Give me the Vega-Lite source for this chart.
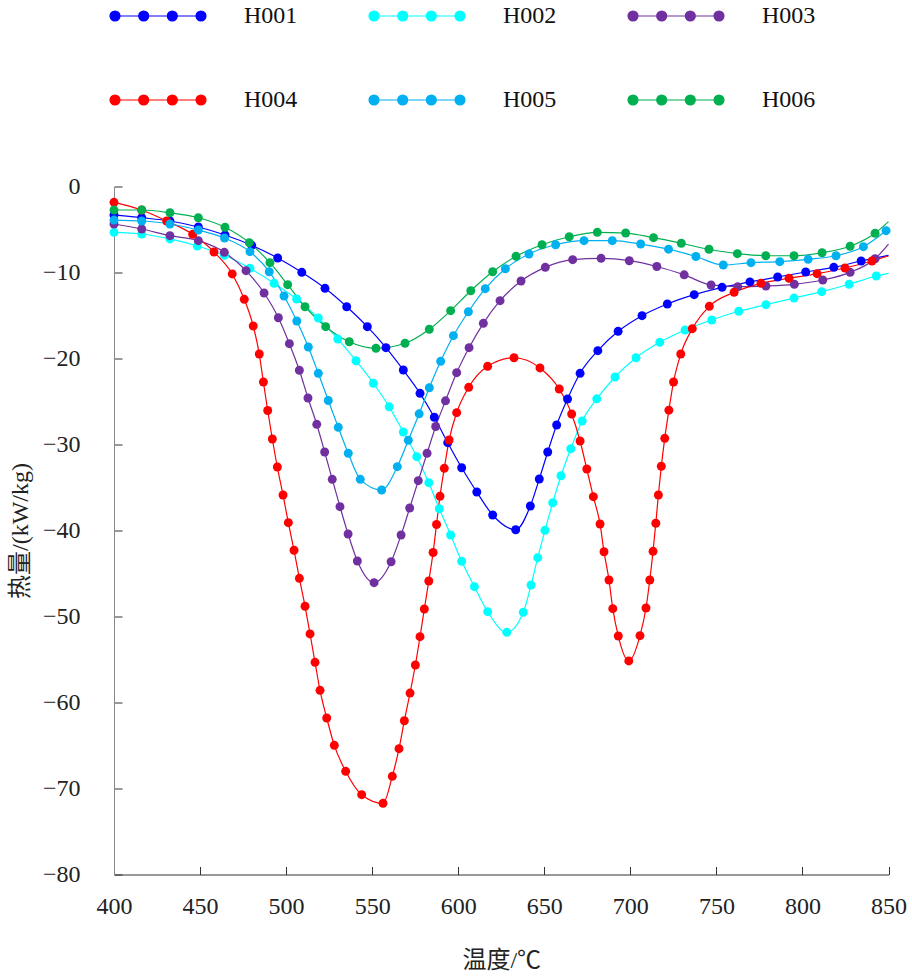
{
  "$schema": "https://vega.github.io/schema/vega-lite/v6.json",
  "width": 774.5,
  "height": 688,
  "autosize": {"type": "none"},
  "padding": {"left": 114, "top": 186.5, "right": 23.5, "bottom": 103.5},
  "background": "white",
  "data": {
    "values": [
      {"s": "H001", "T": 400, "Q": -3.31},
      {"s": "H001", "T": 416.1, "Q": -3.63},
      {"s": "H001", "T": 432.5, "Q": -4.01},
      {"s": "H001", "T": 449.0, "Q": -4.71},
      {"s": "H001", "T": 464.5, "Q": -5.64},
      {"s": "H001", "T": 480.0, "Q": -6.84},
      {"s": "H001", "T": 495.1, "Q": -8.31},
      {"s": "H001", "T": 509.1, "Q": -9.98},
      {"s": "H001", "T": 522.6, "Q": -11.84},
      {"s": "H001", "T": 535.2, "Q": -13.98},
      {"s": "H001", "T": 547.2, "Q": -16.30},
      {"s": "H001", "T": 558.0, "Q": -18.74},
      {"s": "H001", "T": 568.1, "Q": -21.34},
      {"s": "H001", "T": 577.8, "Q": -24.05},
      {"s": "H001", "T": 586.1, "Q": -26.83},
      {"s": "H001", "T": 593.9, "Q": -29.79},
      {"s": "H001", "T": 602.0, "Q": -32.70},
      {"s": "H001", "T": 610.8, "Q": -35.52},
      {"s": "H001", "T": 620.0, "Q": -38.20},
      {"s": "H001", "T": 633.4, "Q": -39.91},
      {"s": "H001", "T": 641.9, "Q": -37.15},
      {"s": "H001", "T": 647.1, "Q": -34.01},
      {"s": "H001", "T": 652.0, "Q": -30.87},
      {"s": "H001", "T": 657.2, "Q": -27.73},
      {"s": "H001", "T": 663.5, "Q": -24.71},
      {"s": "H001", "T": 670.8, "Q": -21.72},
      {"s": "H001", "T": 681.1, "Q": -19.09},
      {"s": "H001", "T": 692.9, "Q": -16.84},
      {"s": "H001", "T": 706.8, "Q": -15.02},
      {"s": "H001", "T": 721.5, "Q": -13.66},
      {"s": "H001", "T": 737.1, "Q": -12.58},
      {"s": "H001", "T": 753.3, "Q": -11.72},
      {"s": "H001", "T": 769.5, "Q": -11.10},
      {"s": "H001", "T": 785.6, "Q": -10.52},
      {"s": "H001", "T": 801.9, "Q": -9.94},
      {"s": "H001", "T": 818.2, "Q": -9.40},
      {"s": "H001", "T": 834.1, "Q": -8.66},
      {"s": "H001", "T": 850, "Q": -8.0},

      {"s": "H002", "T": 400, "Q": -5.33},
      {"s": "H002", "T": 416.1, "Q": -5.52},
      {"s": "H002", "T": 432.5, "Q": -6.10},
      {"s": "H002", "T": 448.4, "Q": -6.92},
      {"s": "H002", "T": 464.1, "Q": -8.00},
      {"s": "H002", "T": 479.0, "Q": -9.51},
      {"s": "H002", "T": 493.0, "Q": -11.26},
      {"s": "H002", "T": 506.1, "Q": -13.08},
      {"s": "H002", "T": 518.7, "Q": -15.29},
      {"s": "H002", "T": 530.0, "Q": -17.73},
      {"s": "H002", "T": 540.6, "Q": -20.26},
      {"s": "H002", "T": 550.7, "Q": -22.88},
      {"s": "H002", "T": 559.9, "Q": -25.62},
      {"s": "H002", "T": 568.1, "Q": -28.55},
      {"s": "H002", "T": 575.9, "Q": -31.42},
      {"s": "H002", "T": 582.9, "Q": -34.44},
      {"s": "H002", "T": 589.0, "Q": -37.47},
      {"s": "H002", "T": 595.6, "Q": -40.52},
      {"s": "H002", "T": 602.0, "Q": -43.58},
      {"s": "H002", "T": 609.4, "Q": -46.53},
      {"s": "H002", "T": 617.1, "Q": -49.44},
      {"s": "H002", "T": 628.2, "Q": -51.84},
      {"s": "H002", "T": 637.8, "Q": -49.51},
      {"s": "H002", "T": 642.3, "Q": -46.34},
      {"s": "H002", "T": 646.2, "Q": -43.16},
      {"s": "H002", "T": 650.4, "Q": -39.98},
      {"s": "H002", "T": 654.9, "Q": -36.77},
      {"s": "H002", "T": 659.7, "Q": -33.63},
      {"s": "H002", "T": 665.4, "Q": -30.49},
      {"s": "H002", "T": 672.0, "Q": -27.27},
      {"s": "H002", "T": 680.5, "Q": -24.69},
      {"s": "H002", "T": 691.1, "Q": -22.15},
      {"s": "H002", "T": 703.3, "Q": -19.91},
      {"s": "H002", "T": 717.1, "Q": -18.12},
      {"s": "H002", "T": 731.8, "Q": -16.69},
      {"s": "H002", "T": 747.3, "Q": -15.52},
      {"s": "H002", "T": 763.0, "Q": -14.51},
      {"s": "H002", "T": 778.8, "Q": -13.74},
      {"s": "H002", "T": 795.1, "Q": -12.97},
      {"s": "H002", "T": 811.2, "Q": -12.23},
      {"s": "H002", "T": 827.1, "Q": -11.37},
      {"s": "H002", "T": 842.9, "Q": -10.41},
      {"s": "H002", "T": 850, "Q": -10.1},

      {"s": "H003", "T": 400, "Q": -4.36},
      {"s": "H003", "T": 416.1, "Q": -4.94},
      {"s": "H003", "T": 432.5, "Q": -5.72},
      {"s": "H003", "T": 449.0, "Q": -6.30},
      {"s": "H003", "T": 464.1, "Q": -7.65},
      {"s": "H003", "T": 476.7, "Q": -9.79},
      {"s": "H003", "T": 487.2, "Q": -12.38},
      {"s": "H003", "T": 495.5, "Q": -15.26},
      {"s": "H003", "T": 501.9, "Q": -18.28},
      {"s": "H003", "T": 507.7, "Q": -21.37},
      {"s": "H003", "T": 512.7, "Q": -24.59},
      {"s": "H003", "T": 517.8, "Q": -27.65},
      {"s": "H003", "T": 522.4, "Q": -30.87},
      {"s": "H003", "T": 526.8, "Q": -34.05},
      {"s": "H003", "T": 531.3, "Q": -37.23},
      {"s": "H003", "T": 536.0, "Q": -40.41},
      {"s": "H003", "T": 541.4, "Q": -43.55},
      {"s": "H003", "T": 551.1, "Q": -46.07},
      {"s": "H003", "T": 561.0, "Q": -43.63},
      {"s": "H003", "T": 566.8, "Q": -40.52},
      {"s": "H003", "T": 571.8, "Q": -37.38},
      {"s": "H003", "T": 576.8, "Q": -34.21},
      {"s": "H003", "T": 581.9, "Q": -31.02},
      {"s": "H003", "T": 586.9, "Q": -27.91},
      {"s": "H003", "T": 592.6, "Q": -24.92},
      {"s": "H003", "T": 599.1, "Q": -21.65},
      {"s": "H003", "T": 606.3, "Q": -18.74},
      {"s": "H003", "T": 614.6, "Q": -15.91},
      {"s": "H003", "T": 624.3, "Q": -13.28},
      {"s": "H003", "T": 636.5, "Q": -10.99},
      {"s": "H003", "T": 650.6, "Q": -9.40},
      {"s": "H003", "T": 666.5, "Q": -8.51},
      {"s": "H003", "T": 683.0, "Q": -8.35},
      {"s": "H003", "T": 699.4, "Q": -8.63},
      {"s": "H003", "T": 715.4, "Q": -9.30},
      {"s": "H003", "T": 731.3, "Q": -10.27},
      {"s": "H003", "T": 746.9, "Q": -11.45},
      {"s": "H003", "T": 762.4, "Q": -11.65},
      {"s": "H003", "T": 778.8, "Q": -11.57},
      {"s": "H003", "T": 795.3, "Q": -11.37},
      {"s": "H003", "T": 811.8, "Q": -10.87},
      {"s": "H003", "T": 827.7, "Q": -9.98},
      {"s": "H003", "T": 842.2, "Q": -8.40},
      {"s": "H003", "T": 850, "Q": -6.69},

      {"s": "H004", "T": 400, "Q": -1.84},
      {"s": "H004", "T": 416.1, "Q": -2.73},
      {"s": "H004", "T": 430.6, "Q": -4.01},
      {"s": "H004", "T": 445.7, "Q": -5.56},
      {"s": "H004", "T": 458.1, "Q": -7.62},
      {"s": "H004", "T": 468.7, "Q": -10.17},
      {"s": "H004", "T": 475.7, "Q": -13.12},
      {"s": "H004", "T": 480.9, "Q": -16.22},
      {"s": "H004", "T": 484.4, "Q": -19.48},
      {"s": "H004", "T": 486.8, "Q": -22.73},
      {"s": "H004", "T": 489.3, "Q": -26.05},
      {"s": "H004", "T": 492.0, "Q": -29.36},
      {"s": "H004", "T": 494.9, "Q": -32.62},
      {"s": "H004", "T": 498.2, "Q": -35.87},
      {"s": "H004", "T": 501.3, "Q": -39.09},
      {"s": "H004", "T": 504.6, "Q": -42.30},
      {"s": "H004", "T": 507.7, "Q": -45.56},
      {"s": "H004", "T": 511.0, "Q": -48.81},
      {"s": "H004", "T": 513.9, "Q": -52.03},
      {"s": "H004", "T": 516.8, "Q": -55.33},
      {"s": "H004", "T": 519.7, "Q": -58.58},
      {"s": "H004", "T": 523.6, "Q": -61.80},
      {"s": "H004", "T": 528.0, "Q": -64.98},
      {"s": "H004", "T": 534.6, "Q": -68.00},
      {"s": "H004", "T": 543.9, "Q": -70.72},
      {"s": "H004", "T": 556.3, "Q": -71.72},
      {"s": "H004", "T": 561.7, "Q": -68.58},
      {"s": "H004", "T": 565.6, "Q": -65.37},
      {"s": "H004", "T": 568.7, "Q": -62.12},
      {"s": "H004", "T": 572.0, "Q": -58.90},
      {"s": "H004", "T": 575.1, "Q": -55.64},
      {"s": "H004", "T": 577.8, "Q": -52.35},
      {"s": "H004", "T": 580.3, "Q": -49.13},
      {"s": "H004", "T": 582.9, "Q": -45.87},
      {"s": "H004", "T": 585.4, "Q": -42.56},
      {"s": "H004", "T": 587.4, "Q": -39.30},
      {"s": "H004", "T": 589.4, "Q": -36.02},
      {"s": "H004", "T": 591.9, "Q": -32.77},
      {"s": "H004", "T": 594.7, "Q": -29.48},
      {"s": "H004", "T": 599.1, "Q": -26.30},
      {"s": "H004", "T": 606.1, "Q": -23.35},
      {"s": "H004", "T": 617.1, "Q": -20.91},
      {"s": "H004", "T": 632.4, "Q": -19.91},
      {"s": "H004", "T": 647.5, "Q": -21.10},
      {"s": "H004", "T": 658.7, "Q": -23.55},
      {"s": "H004", "T": 665.9, "Q": -26.45},
      {"s": "H004", "T": 670.8, "Q": -29.59},
      {"s": "H004", "T": 674.7, "Q": -32.85},
      {"s": "H004", "T": 678.5, "Q": -36.07},
      {"s": "H004", "T": 682.4, "Q": -39.24},
      {"s": "H004", "T": 684.7, "Q": -42.47},
      {"s": "H004", "T": 687.6, "Q": -45.76},
      {"s": "H004", "T": 689.8, "Q": -49.09},
      {"s": "H004", "T": 693.0, "Q": -52.27},
      {"s": "H004", "T": 699.1, "Q": -55.17},
      {"s": "H004", "T": 705.6, "Q": -52.23},
      {"s": "H004", "T": 709.1, "Q": -49.01},
      {"s": "H004", "T": 711.3, "Q": -45.76},
      {"s": "H004", "T": 713.2, "Q": -42.42},
      {"s": "H004", "T": 714.8, "Q": -39.16},
      {"s": "H004", "T": 716.3, "Q": -35.87},
      {"s": "H004", "T": 718.0, "Q": -32.53},
      {"s": "H004", "T": 720.0, "Q": -29.28},
      {"s": "H004", "T": 722.4, "Q": -26.01},
      {"s": "H004", "T": 725.1, "Q": -22.73},
      {"s": "H004", "T": 729.3, "Q": -19.48},
      {"s": "H004", "T": 736.0, "Q": -16.53},
      {"s": "H004", "T": 745.9, "Q": -13.93},
      {"s": "H004", "T": 760.3, "Q": -12.30},
      {"s": "H004", "T": 775.9, "Q": -11.26},
      {"s": "H004", "T": 792.2, "Q": -10.67},
      {"s": "H004", "T": 808.5, "Q": -10.14},
      {"s": "H004", "T": 824.7, "Q": -9.48},
      {"s": "H004", "T": 840.4, "Q": -8.66},
      {"s": "H004", "T": 850, "Q": -8.08},

      {"s": "H005", "T": 400, "Q": -3.90},
      {"s": "H005", "T": 416.1, "Q": -4.01},
      {"s": "H005", "T": 432.5, "Q": -4.36},
      {"s": "H005", "T": 449.0, "Q": -5.06},
      {"s": "H005", "T": 464.2, "Q": -5.99},
      {"s": "H005", "T": 479.0, "Q": -7.58},
      {"s": "H005", "T": 490.2, "Q": -9.91},
      {"s": "H005", "T": 498.8, "Q": -12.73},
      {"s": "H005", "T": 506.2, "Q": -15.64},
      {"s": "H005", "T": 512.9, "Q": -18.66},
      {"s": "H005", "T": 518.7, "Q": -21.72},
      {"s": "H005", "T": 524.5, "Q": -24.88},
      {"s": "H005", "T": 530.3, "Q": -28.00},
      {"s": "H005", "T": 536.1, "Q": -31.02},
      {"s": "H005", "T": 543.1, "Q": -34.05},
      {"s": "H005", "T": 555.5, "Q": -35.29},
      {"s": "H005", "T": 564.6, "Q": -32.58},
      {"s": "H005", "T": 571.0, "Q": -29.51},
      {"s": "H005", "T": 577.3, "Q": -26.43},
      {"s": "H005", "T": 583.2, "Q": -23.40},
      {"s": "H005", "T": 589.8, "Q": -20.33},
      {"s": "H005", "T": 597.2, "Q": -17.35},
      {"s": "H005", "T": 605.9, "Q": -14.56},
      {"s": "H005", "T": 615.7, "Q": -11.88},
      {"s": "H005", "T": 627.4, "Q": -9.56},
      {"s": "H005", "T": 641.1, "Q": -7.85},
      {"s": "H005", "T": 656.6, "Q": -6.77},
      {"s": "H005", "T": 673.1, "Q": -6.30},
      {"s": "H005", "T": 689.5, "Q": -6.30},
      {"s": "H005", "T": 706.0, "Q": -6.69},
      {"s": "H005", "T": 722.2, "Q": -7.29},
      {"s": "H005", "T": 738.1, "Q": -8.14},
      {"s": "H005", "T": 754.0, "Q": -9.13},
      {"s": "H005", "T": 770.1, "Q": -8.86},
      {"s": "H005", "T": 786.8, "Q": -8.74},
      {"s": "H005", "T": 803.3, "Q": -8.47},
      {"s": "H005", "T": 819.5, "Q": -8.05},
      {"s": "H005", "T": 835.4, "Q": -7.00},
      {"s": "H005", "T": 848.6, "Q": -5.14},

      {"s": "H006", "T": 400, "Q": -2.73},
      {"s": "H006", "T": 416.1, "Q": -2.73},
      {"s": "H006", "T": 432.5, "Q": -3.05},
      {"s": "H006", "T": 449.0, "Q": -3.63},
      {"s": "H006", "T": 464.5, "Q": -4.74},
      {"s": "H006", "T": 478.6, "Q": -6.53},
      {"s": "H006", "T": 490.6, "Q": -8.86},
      {"s": "H006", "T": 500.9, "Q": -11.42},
      {"s": "H006", "T": 511.0, "Q": -13.98},
      {"s": "H006", "T": 523.0, "Q": -16.30},
      {"s": "H006", "T": 536.7, "Q": -18.05},
      {"s": "H006", "T": 552.2, "Q": -18.81},
      {"s": "H006", "T": 569.1, "Q": -18.23},
      {"s": "H006", "T": 583.2, "Q": -16.60},
      {"s": "H006", "T": 595.6, "Q": -14.44},
      {"s": "H006", "T": 607.3, "Q": -12.12},
      {"s": "H006", "T": 620.0, "Q": -9.91},
      {"s": "H006", "T": 633.6, "Q": -8.12},
      {"s": "H006", "T": 648.7, "Q": -6.77},
      {"s": "H006", "T": 664.5, "Q": -5.84},
      {"s": "H006", "T": 680.8, "Q": -5.33},
      {"s": "H006", "T": 697.3, "Q": -5.41},
      {"s": "H006", "T": 713.5, "Q": -5.95},
      {"s": "H006", "T": 729.6, "Q": -6.60},
      {"s": "H006", "T": 745.7, "Q": -7.30},
      {"s": "H006", "T": 762.2, "Q": -7.81},
      {"s": "H006", "T": 778.7, "Q": -8.05},
      {"s": "H006", "T": 795.1, "Q": -8.05},
      {"s": "H006", "T": 811.4, "Q": -7.70},
      {"s": "H006", "T": 827.7, "Q": -6.95},
      {"s": "H006", "T": 842.2, "Q": -5.44},
      {"s": "H006", "T": 850, "Q": -4.09}
    ]
  },
  "encoding": {
    "x": {
      "field": "T",
      "type": "quantitative",
      "scale": {"domain": [400, 850], "nice": false, "zero": false},
      "axis": {
        "title": "温度/℃",
        "values": [400, 450, 500, 550, 600, 650, 700, 750, 800, 850],
        "grid": false,
        "labelFlush": false,
        "tickSize": -8,
        "labelPadding": 28,
        "titlePadding": 30,
        "domainColor": "#333333",
        "tickColor": "#333333"
      }
    },
    "y": {
      "field": "Q",
      "type": "quantitative",
      "scale": {"domain": [-80, 0], "nice": false, "zero": false},
      "axis": {
        "title": "热量/(kW/kg)",
        "values": [0, -10, -20, -30, -40, -50, -60, -70, -80],
        "grid": false,
        "labelFlush": false,
        "tickSize": -8,
        "labelPadding": 42,
        "titlePadding": 10,
        "domainColor": "#888888",
        "tickColor": "#333333"
      }
    },
    "color": {
      "field": "s",
      "type": "nominal",
      "scale": {
        "domain": ["H001", "H002", "H003", "H004", "H005", "H006"],
        "range": ["#0000ff", "#00ffff", "#7030a0", "#ff0000", "#00b0f0", "#00b050"]
      },
      "legend": {
        "title": null,
        "orient": "none",
        "legendX": 0,
        "legendY": -214.5,
        "direction": "horizontal",
        "columns": 3,
        "padding": 0,
        "columnPadding": 68,
        "rowPadding": 28,
        "symbolType": "M-1,0L1,0M-1.116,0a0.116,0.116 0 1,0 0.232,0a0.116,0.116 0 1,0 -0.232,0M-0.449,0a0.116,0.116 0 1,0 0.232,0a0.116,0.116 0 1,0 -0.232,0M0.217,0a0.116,0.116 0 1,0 0.232,0a0.116,0.116 0 1,0 -0.232,0M0.884,0a0.116,0.116 0 1,0 0.232,0a0.116,0.116 0 1,0 -0.232,0",
        "symbolSize": 7396,
        "symbolStrokeWidth": 1.2,
        "labelOffset": 42,
        "labelFontSize": 24,
        "labelColor": "#111111",
        "encode": {
          "symbols": {
            "update": {
              "fill": {"scale": "color", "field": "value"},
              "stroke": {"scale": "color", "field": "value"},
              "opacity": {"value": 1}
            }
          }
        }
      }
    }
  },
  "layer": [
    {
      "mark": {"type": "line", "interpolate": "monotone", "strokeWidth": 1.2}
    },
    {
      "transform": [{"filter": "datum.T < 849.5"}],
      "mark": {"type": "point", "filled": true, "opacity": 1, "size": 80}
    }
  ],
  "config": {
    "view": {"stroke": null},
    "font": "Liberation Serif, Noto Sans CJK SC",
    "axis": {
      "labelFont": "Liberation Serif",
      "labelFontSize": 24,
      "labelColor": "#222222",
      "titleFont": "Liberation Serif, Noto Sans CJK SC",
      "titleFontSize": 24,
      "titleFontWeight": "normal",
      "titleColor": "#222222"
    },
    "legend": {"labelFont": "Liberation Serif"}
  }
}
